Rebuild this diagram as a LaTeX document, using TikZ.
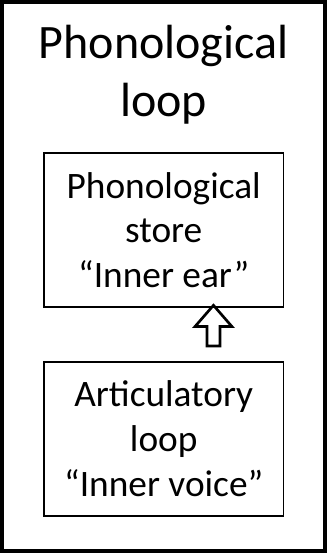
\documentclass[tikz,border=0pt]{standalone}
\usepackage{fontspec}
\setmainfont{Carlito}
\usetikzlibrary{shapes.arrows, positioning, calc}

\begin{document}
\begin{tikzpicture}[
    node distance=39.75pt,
    box/.style={rectangle, draw, line width=1.25pt, minimum width=179.6pt, minimum height=115.5pt, align=center, font=\fontsize{28}{33.5}\selectfont},
    uparrow/.style={single arrow, draw, line width=2pt, rotate=90, minimum height=30.5pt, inner sep=3.9pt, single arrow head extend=8.9pt, single arrow tip angle=82}
]
    \useasboundingbox (0,0) rectangle (246.75pt,-414.75pt);
    \draw[line width=3pt] (1.6pt,-1.6pt) rectangle (244pt,-412.9pt);

    \node [box] (store) at (122.8pt,-172.5pt) {Phonological\\store\\``Inner ear''};
    \node [box, below=of store] (rehearsal) {Articulatory\\loop\\``Inner voice''};
    \node [above=21pt of store, inner sep=0pt, align=center, font=\fontsize{36}{43}\selectfont] (title) {Phonological\\loop};

    \node [uparrow] (lift) at ($(store.south)!0.5!(rehearsal.north) + (37.3pt,3.7pt)$) {};
\end{tikzpicture}
\end{document}
